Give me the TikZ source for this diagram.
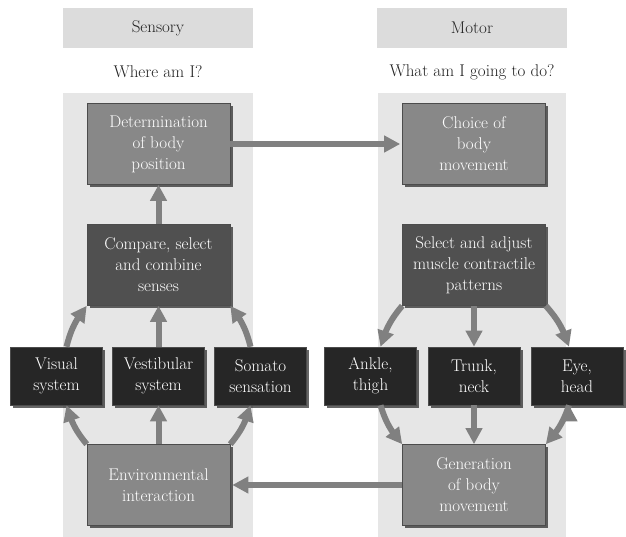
\documentclass[tikz,border=0pt]{standalone}
\usepackage{tikz}
\usetikzlibrary{positioning,arrows.meta,bending,shadows}
\definecolor{colbg}{HTML}{E6E6E6}
\definecolor{headbg}{HTML}{DCDCDC}
\definecolor{boxgray}{HTML}{888888}
\definecolor{boxdark}{HTML}{505050}
\definecolor{boxblack}{HTML}{262626}
\definecolor{arrowgray}{HTML}{808080}
\definecolor{labeltext}{HTML}{222222}

\begin{document}
\begin{tikzpicture}[x=1pt,y=1pt,node distance=103pt,on grid,
		font=\fontsize{17}{21}\selectfont,
		box/.style={draw=black!70,line width=0.6pt,text=white,align=center,inner sep=0pt,
			drop shadow={shadow xshift=2.5pt,shadow yshift=-2.5pt,fill=black,opacity=0.6}},
		bigbox/.style={box,fill=boxgray,minimum width=143pt,minimum height=81pt},
		darkbox/.style={box,fill=boxdark,minimum width=143pt,minimum height=81pt},
		smallbox/.style={box,fill=boxblack,minimum width=92pt,minimum height=58pt},
		head/.style={fill=headbg,text=labeltext,minimum width=190pt,minimum height=40pt},
		fat/.style={draw=arrowgray,line width=6pt,
			-{Triangle[length=16pt,width=16pt,color=arrowgray]}}]
		\useasboundingbox (0,0) rectangle (626,-537);
		\fill[colbg] (63,-93) rectangle (253,-537);
		\fill[colbg] (378,-93) rectangle (566,-537);

		\node[head](senshd) at (158,-28){Sensory};
		\node[text=labeltext](sensq) at (158,-72){Where am I?};
		\node[head](mothd) at (472,-28){Motor};
		\node[text=labeltext](motq) at (472,-72){What am I going to do?};

		\node[bigbox](det) at (158.5,-144){Determination\\of body\\position};
		\node[darkbox](cmp)[below=121pt of det]{Compare, select\\and combine\\senses};
		\node[smallbox](ves)[below=111pt of cmp]{Vestibular\\system};
		\node[smallbox](vis)[left=102pt of ves]{Visual\\system};
		\node[smallbox](som)[right=102pt of ves]{Somato\\sensation};
		\node[bigbox](env)[below=109pt of ves]{Environmental\\interaction};

		\node[bigbox](cho)[right=315.5pt of det]{Choice of\\body\\movement};
		\node[darkbox](sel)[below=121pt of cho]{Select and adjust\\muscle contractile\\patterns};
		\node[smallbox](tru)[below=111pt of sel]{Trunk,\\neck};
		\node[smallbox](ank)[left=103.5pt of tru]{Ankle,\\thigh};
		\node[smallbox](eye)[right=103pt of tru]{Eye,\\head};
		\node[bigbox](gen)[below=109pt of tru]{Generation\\of body\\movement};

		\path[fat]
		(det) edge [shorten >=2pt] (cho)
		(gen) edge [shorten >=2pt] (env)
		(cmp) edge (det)
		(ves) edge (cmp)
		(env) edge (ves)
		(env.north west) edge [bend left=12] ([xshift=10pt]vis.south)
		([xshift=10pt]vis.north) edge [bend left=12] (cmp.south west)
		(env.north east) edge [bend right=12] ([xshift=-10pt]som.south)
		([xshift=-10pt]som.north) edge [bend right=12] (cmp.south east)
		(sel) edge (tru)
		(tru) edge (gen)
		(sel.south west) edge [bend right=12] ([xshift=10pt]ank.north)
		([xshift=10pt]ank.south) edge [bend right=12] (gen.north west)
		(sel.south east) edge [bend left=12] ([xshift=-8pt]eye.north)
		([xshift=-8pt]eye.south) edge [bend left=12] (gen.north east);
	\end{tikzpicture}
\end{document}
